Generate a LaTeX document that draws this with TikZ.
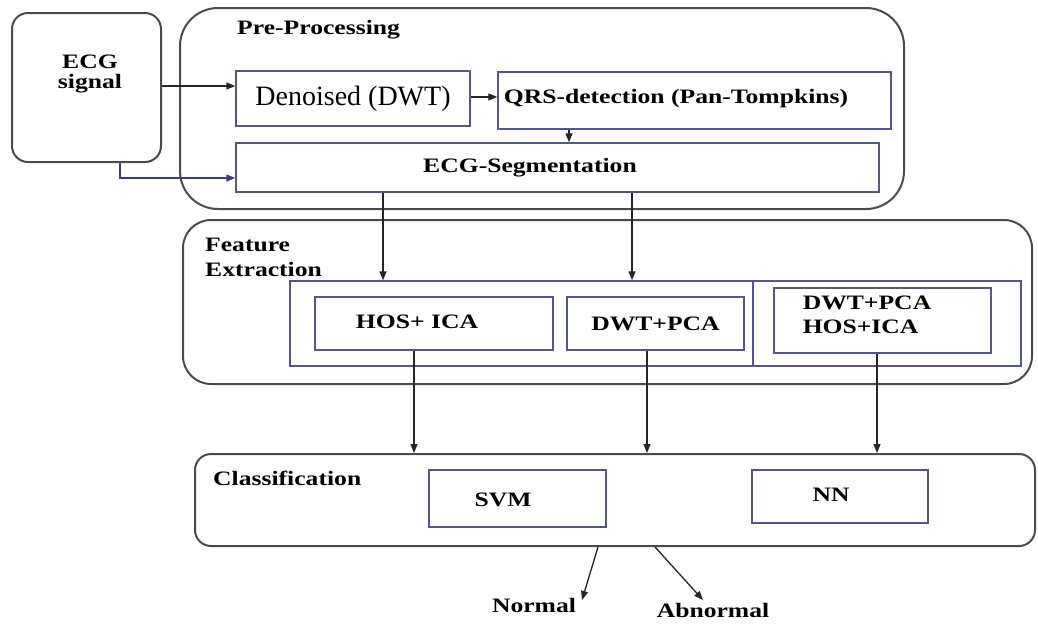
\documentclass[tikz,border=0pt]{standalone}
\usepackage{fontspec}
\setmainfont{Liberation Serif}
\newfontfamily\wfont[FakeStretch=1.25]{Liberation Serif}
\usetikzlibrary{arrows.meta}
\definecolor{boxc}{RGB}{85,85,135}
\definecolor{outc}{RGB}{75,75,75}
\definecolor{linkc}{RGB}{60,60,120}
\begin{document}
\begin{tikzpicture}[x=1pt,y=-1pt,
  grp/.style={draw=outc, line width=2pt, rounded corners=#1, inner sep=0pt},
  bx/.style={draw=boxc, line width=1.4pt, inner sep=0pt},
  lbl/.style={font=\wfont\bfseries\fontsize{20.5}{25}\selectfont, inner sep=0pt},
  txt/.style={font=\wfont\bfseries\fontsize{20.5}{24}\selectfont, inner sep=0pt},
  arr/.style={-{Triangle[length=9pt,width=7pt]}, line width=1.3pt, draw=black!85},
  arrb/.style={-{Triangle[length=9pt,width=7pt]}, line width=1.3pt, draw=linkc}]
\useasboundingbox (0,0) rectangle (1038,625);
% groups
\node[grp=16pt, minimum width=149pt, minimum height=149pt] (ecg) at (86.5,87.5) {};
\node[txt, align=center] (ecgt) at (90,74) {ECG\\[-4pt]signal};
\node[grp=38pt, minimum width=724pt, minimum height=201pt] (pre) at (542,108.5) {};
\node[lbl, anchor=west] (prel) at (237,30) {Pre-Processing};
\node[grp=28pt, minimum width=849pt, minimum height=164pt] (fe) at (607.5,302) {};
\node[lbl, anchor=west, align=left] (fel) at (205,257) {Feature\\Extraction};
\node[grp=16pt, minimum width=840pt, minimum height=92pt] (cls) at (615,500) {};
\node[lbl, anchor=west] (clsl) at (213,478) {Classification};
% pre-processing boxes
\node[bx, minimum width=234pt, minimum height=55pt, font=\fontsize{28}{30}\selectfont] (den) at (353,98.5) {Denoised (DWT)};
\node[bx, minimum width=393pt, minimum height=57pt] (qrs) at (694.5,100.5) {};
\node[txt] (qrst) at (676,99) {QRS-detection (Pan-Tompkins)};
\node[bx, minimum width=643pt, minimum height=49pt] (seg) at (557.5,167.5) {};
\node[txt] (segt) at (530,168) {ECG-Segmentation};
% feature extraction boxes
\node[bx, minimum width=731pt, minimum height=85pt] (inner) at (655.5,323.5) {};
\draw[draw=boxc, line width=1.4pt] (inner.north -| 753,0) -- (inner.south -| 753,0);
\node[bx, minimum width=238pt, minimum height=53pt] (hos) at (434,323.5) {};
\node[txt] (host) at (417,322) {HOS+ ICA};
\node[bx, minimum width=177pt, minimum height=53pt, txt] (dwt) at (655.5,323.5) {DWT+PCA};
\node[bx, minimum width=217pt, minimum height=65pt] (both) at (882.5,320.5) {};
\node[txt, align=left] (botht) at (867,315) {DWT+PCA\\HOS+ICA};
% classification boxes
\node[bx, minimum width=177pt, minimum height=57pt] (svm) at (517.5,498.5) {};
\node[txt] (svmt) at (503,500) {SVM};
\node[bx, minimum width=176pt, minimum height=53pt] (nn) at (840,496.5) {};
\node[txt] (nnt) at (831,495) {NN};
% outputs
\node[txt] (normal) at (534,605) {Normal};
\node[txt] (abn) at (713,610) {Abnormal};
% connectors
\draw[arr] (ecg.east |- 0,86) -- (den.west |- 0,86);
\draw[arrb] (ecg.south -| 120,0) |- (seg.west |- 0,178);
\draw[arr] (den.east |- 0,97) -- (qrs.west |- 0,97);
\draw[arr] (qrs.south -| 569,0) -- (seg.north -| 569,0);
\draw[arr] (seg.south -| 383,0) -- (inner.north -| 383,0);
\draw[arr] (seg.south -| 632,0) -- (inner.north -| 632,0);
\draw[arr] (hos.south -| 414,0) -- (cls.north -| 414,0);
\draw[arr] (dwt.south -| 647,0) -- (cls.north -| 647,0);
\draw[arr] (both.south -| 877,0) -- (cls.north -| 877,0);
\draw[arr] (cls.south -| 598,0) -- (582,600) coordinate (nend);
\draw[arr] (cls.south -| 655,0) -- (703,600) coordinate (aend);
\end{tikzpicture}
\end{document}
